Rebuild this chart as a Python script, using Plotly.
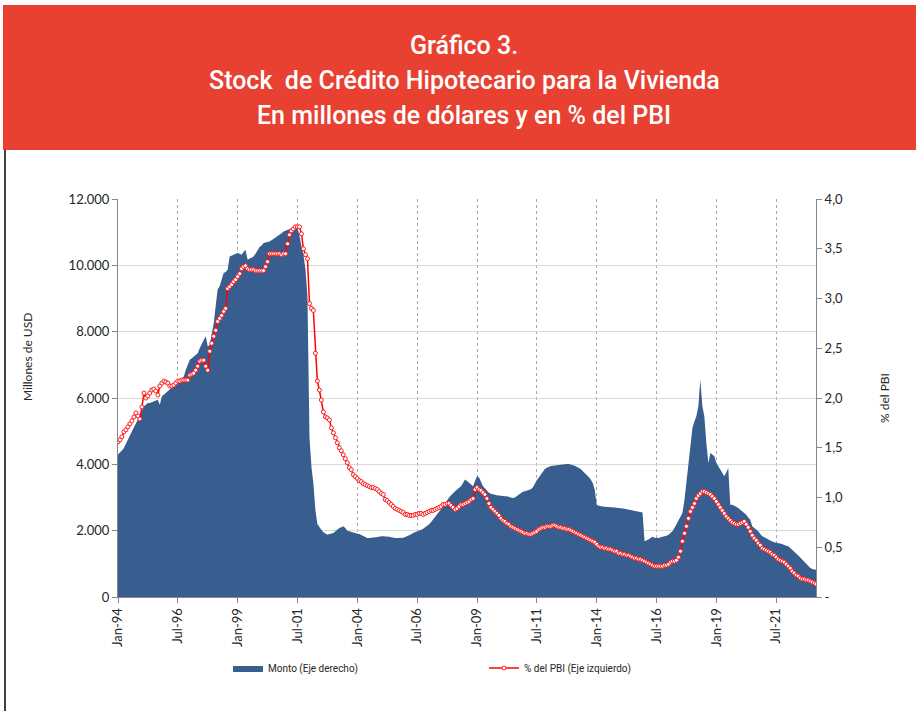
import plotly.graph_objects as go
import pandas as pd

# ---------------- DATA ----------------
start_month = "1994-01-01"

monto_usd = [
    4300, 4350, 4420, 4490, 4620, 4750, 4890, 5000, 5120, 5230, 5350, 5480,      # 1994
    5620, 5750, 5800, 5850, 5850, 5880, 5900, 5930, 5950, 5800, 6050, 6100,      # 1995
    6150, 6200, 6250, 6300, 6350, 6420, 6500, 6550, 6600, 6650, 6850, 7000,      # 1996
    7150, 7200, 7250, 7300, 7350, 7500, 7650, 7750, 7860, 7560, 7600, 7900,      # 1997
    8260, 8800, 9270, 9370, 9550, 9770, 9800, 9870, 10270, 10300, 10320, 10350,  # 1998
    10370, 10350, 10320, 10400, 10470, 10170, 10200, 10230, 10270, 10350, 10470, 10550,  # 1999
    10600, 10670, 10690, 10700, 10720, 10760, 10800, 10840, 10870, 10920, 10970, 11020,  # 2000
    11040, 11060, 11090, 11120, 11150, 11180, 11130, 10900, 10570, 10320, 9870, 9060,    # 2001
    4800, 3900, 3440, 2630, 2200, 2100, 2030, 1950, 1900, 1880, 1900, 1920,      # 2002
    1930, 1980, 2030, 2080, 2100, 2130, 2080, 2000, 1980, 1960, 1930, 1920,      # 2003
    1910, 1900, 1870, 1840, 1810, 1780, 1780, 1780, 1780, 1800, 1810, 1830,      # 2004
    1830, 1830, 1830, 1830, 1820, 1800, 1780, 1780, 1780, 1780, 1780, 1790,      # 2005
    1810, 1830, 1860, 1890, 1930, 1950, 1980, 2000, 2030, 2060, 2100, 2130,      # 2006
    2190, 2260, 2330, 2400, 2480, 2550, 2630, 2730, 2830, 2930, 3000, 3070,      # 2007
    3140, 3190, 3240, 3290, 3340, 3440, 3540, 3500, 3440, 3400, 3340, 3500,      # 2008
    3640, 3600, 3450, 3340, 3280, 3200, 3140, 3110, 3090, 3080, 3070, 3060,      # 2009
    3060, 3050, 3040, 3035, 3020, 3000, 2985, 3000, 3050, 3100, 3150, 3170,      # 2010
    3185, 3200, 3220, 3250, 3300, 3440, 3520, 3600, 3690, 3760, 3860, 3900,      # 2011
    3930, 3950, 3960, 3970, 3980, 3985, 3990, 4000, 4005, 4010, 4010, 4000,      # 2012
    3980, 3960, 3930, 3900, 3860, 3800, 3750, 3690, 3620, 3540, 3440, 3240,      # 2013
    2780, 2750, 2730, 2730, 2720, 2720, 2710, 2710, 2700, 2700, 2690, 2690,      # 2014
    2680, 2670, 2660, 2650, 2630, 2610, 2610, 2600, 2600, 2590, 2580, 2550,      # 2015
    1680, 1700, 1730, 1780, 1820, 1790, 1780, 1780, 1800, 1810, 1830, 1850,      # 2016
    1880, 1930, 1980, 2080, 2200, 2330, 2430, 2530, 2935, 3440, 4040, 4540,      # 2017
    5100, 5300, 5450, 5750, 6550, 5750, 5450, 4640, 4040, 4340, 4300, 4240,      # 2018
    4040, 3940, 3840, 3740, 3640, 3750, 3890, 2780, 2780, 2750, 2720, 2680,      # 2019
    2630, 2580, 2530, 2480, 2400, 2330, 2130, 2080, 2030, 1980, 1900, 1830,      # 2020
    1800, 1760, 1730, 1700, 1670, 1650, 1640, 1635, 1630, 1600, 1570, 1550,      # 2021
    1530, 1480, 1430, 1380, 1330, 1280, 1200, 1130, 1060, 990, 925, 880,         # 2022
    845, 830, 820,                                                                 # 2023
]

pct_pbi = [
    1.56, 1.58, 1.61, 1.66, 1.68, 1.71, 1.74, 1.77, 1.81, 1.85, 1.82, 1.79,  # 1994
    1.91, 2.05, 2.00, 2.02, 2.05, 2.08, 2.09, 2.07, 2.03, 2.12, 2.15, 2.17,  # 1995
    2.16, 2.15, 2.12, 2.12, 2.13, 2.15, 2.17, 2.17, 2.18, 2.18, 2.18, 2.18,  # 1996
    2.23, 2.24, 2.25, 2.28, 2.32, 2.37, 2.38, 2.38, 2.32, 2.28, 2.47, 2.55,  # 1997
    2.62, 2.68, 2.77, 2.80, 2.83, 2.87, 2.90, 3.10, 3.12, 3.14, 3.17, 3.19,  # 1998
    3.22, 3.25, 3.30, 3.32, 3.33, 3.30, 3.29, 3.29, 3.29, 3.28, 3.28, 3.28,  # 1999
    3.28, 3.28, 3.32, 3.37, 3.45, 3.45, 3.45, 3.45, 3.45, 3.45, 3.44, 3.45,  # 2000
    3.45, 3.55, 3.64, 3.68, 3.70, 3.72, 3.72, 3.72, 3.65, 3.50, 3.44, 3.40,  # 2001
    2.95, 2.90, 2.88, 2.45, 2.17, 2.08, 1.98, 1.86, 1.81, 1.80, 1.78, 1.70,  # 2002
    1.65, 1.60, 1.55, 1.50, 1.47, 1.43, 1.39, 1.35, 1.30, 1.28, 1.23, 1.21,  # 2003
    1.19, 1.17, 1.16, 1.14, 1.13, 1.12, 1.11, 1.10, 1.10, 1.09, 1.08, 1.06,  # 2004
    1.04, 1.03, 0.98, 0.97, 0.95, 0.93, 0.91, 0.89, 0.88, 0.87, 0.86, 0.85,  # 2005
    0.83, 0.83, 0.82, 0.82, 0.82, 0.83, 0.83, 0.84, 0.84, 0.83, 0.84, 0.85,  # 2006
    0.86, 0.87, 0.87, 0.88, 0.89, 0.90, 0.91, 0.93, 0.93, 0.94, 0.94, 0.92,  # 2007
    0.90, 0.88, 0.89, 0.91, 0.93, 0.93, 0.94, 0.95, 0.96, 0.98, 0.99, 1.08,  # 2008
    1.10, 1.08, 1.07, 1.05, 1.03, 0.99, 0.94, 0.90, 0.88, 0.86, 0.84, 0.82,  # 2009
    0.79, 0.77, 0.76, 0.74, 0.73, 0.71, 0.70, 0.69, 0.68, 0.67, 0.66, 0.65,  # 2010
    0.64, 0.64, 0.63, 0.63, 0.64, 0.65, 0.66, 0.68, 0.69, 0.70, 0.70, 0.71,  # 2011
    0.71, 0.71, 0.72, 0.72, 0.71, 0.70, 0.70, 0.69, 0.69, 0.68, 0.68, 0.67,  # 2012
    0.66, 0.65, 0.64, 0.63, 0.62, 0.61, 0.60, 0.59, 0.58, 0.57, 0.56, 0.55,  # 2013
    0.53, 0.51, 0.50, 0.50, 0.49, 0.49, 0.48, 0.48, 0.47, 0.46, 0.46, 0.44,  # 2014
    0.44, 0.43, 0.43, 0.42, 0.42, 0.41, 0.40, 0.39, 0.39, 0.38, 0.38, 0.37,  # 2015
    0.36, 0.35, 0.34, 0.33, 0.32, 0.31, 0.31, 0.31, 0.31, 0.31, 0.32, 0.32,  # 2016
    0.33, 0.35, 0.36, 0.36, 0.37, 0.40, 0.46, 0.56, 0.64, 0.71, 0.79, 0.86,  # 2017
    0.90, 0.94, 0.99, 1.02, 1.04, 1.06, 1.06, 1.05, 1.04, 1.03, 1.01, 0.99,  # 2018
    0.96, 0.93, 0.90, 0.87, 0.84, 0.81, 0.79, 0.77, 0.75, 0.74, 0.73, 0.73,  # 2019
    0.74, 0.75, 0.76, 0.73, 0.70, 0.66, 0.62, 0.59, 0.57, 0.54, 0.52, 0.49,  # 2020
    0.48, 0.47, 0.46, 0.45, 0.43, 0.42, 0.40, 0.38, 0.37, 0.36, 0.35, 0.33,  # 2021
    0.31, 0.29, 0.26, 0.24, 0.22, 0.21, 0.19, 0.18, 0.18, 0.17, 0.17, 0.16,  # 2022
    0.15, 0.14, 0.13,                                                        # 2023
]

x_tick_dates = ["1994-01-01", "1996-07-01", "1999-01-01", "2001-07-01", "2004-01-01", "2006-07-01",
                "2009-01-01", "2011-07-01", "2014-01-01", "2016-07-01", "2019-01-01", "2021-07-01"]
x_tick_labels = ["Jan-94", "Jul-96", "Jan-99", "Jul-01", "Jan-04", "Jul-06",
                 "Jan-09", "Jul-11", "Jan-14", "Jul-16", "Jan-19", "Jul-21"]
y1_ticks = [0, 2000, 4000, 6000, 8000, 10000, 12000]
y1_labels = ["0", "2.000", "4.000", "6.000", "8.000", "10.000", "12.000"]
y2_ticks = [0, 0.5, 1.0, 1.5, 2.0, 2.5, 3.0, 3.5, 4.0]
y2_labels = ["-", "0,5", "1,0", "1,5", "2,0", "2,5", "3,0", "3,5", "4,0"]

title_lines = ["Gráfico 3.", "Stock  de Crédito Hipotecario para la Vivienda",
               "En millones de dólares y en % del PBI"]
series_names = ["Monto (Eje derecho)", "% del PBI (Eje izquierdo)"]
assert len(monto_usd) == len(pct_pbi)

months = pd.date_range(start_month, periods=len(monto_usd), freq="MS")

# ---------------- LAYOUT HELPERS ----------------
W, H = 916, 711
PL, PR, PT, PB = 118, 816, 199, 597  # plot-area pixel box


def fx(px):
    return (px - PL) / (PR - PL)


def fy(py):
    return (PB - py) / (PB - PT)


TICK_FONT = dict(family="Lato, Open Sans, sans-serif", size=13, color="#262626")
NARROW = "Roboto, sans-serif"

fig = go.Figure()
fig.add_trace(go.Scatter(
    x=months, y=monto_usd, name=series_names[0], mode="lines",
    fill="tozeroy", fillcolor="#375E8F", line=dict(width=0, color="#375E8F"),
    yaxis="y",
))
fig.add_trace(go.Scatter(
    x=months, y=pct_pbi, name=series_names[1], mode="lines+markers",
    line=dict(color="#FF0000", width=1.5),
    marker=dict(symbol="circle", size=4, color="white", line=dict(color="#FF1A1A", width=1)),
    yaxis="y2",
))

shapes = [
    dict(type="rect", xref="paper", yref="paper", x0=fx(3), x1=fx(917), y0=fy(150), y1=fy(5),
         fillcolor="#E84132", line=dict(width=0), layer="below"),
    dict(type="line", xref="paper", yref="paper", x0=fx(5), x1=fx(5), y0=fy(150), y1=fy(712),
         line=dict(color="black", width=1.5)),
]

annotations = []
for txt, py in zip(title_lines, [45, 80, 116]):
    annotations.append(dict(text=txt, xref="paper", yref="paper", x=fx(464), y=fy(py),
                            xanchor="center", yanchor="middle", showarrow=False,
                            font=dict(family=NARROW, size=25, color="white", weight=500)))
annotations.append(dict(text="Millones de USD", xref="paper", yref="paper", x=fx(27), y=fy(357),
                        xanchor="center", yanchor="middle", textangle=-90, showarrow=False,
                        font=dict(family="Lato, Open Sans, sans-serif", size=12, color="#262626")))
annotations.append(dict(text="% del PBI", xref="paper", yref="paper", x=fx(884), y=fy(398),
                        xanchor="center", yanchor="middle", textangle=-90, showarrow=False,
                        font=dict(family="Lato, Open Sans, sans-serif", size=12, color="#262626")))

fig.update_layout(
    width=W, height=H,
    margin=dict(l=PL, r=W - PR, t=PT, b=H - PB, pad=0),
    paper_bgcolor="white", plot_bgcolor="white",
    showlegend=True,
    legend=dict(orientation="h", x=fx(228), y=fy(668), xanchor="left", yanchor="middle",
                entrywidth=211, entrywidthmode="pixels", traceorder="normal",
                font=dict(family="Roboto, sans-serif", size=10, color="#262626"), itemwidth=30,
                bgcolor="rgba(0,0,0,0)"),
    xaxis=dict(
        type="date", range=[months[0], months[-1]],
        tickmode="array", tickvals=x_tick_dates, ticktext=x_tick_labels,
        tickangle=-90, tickfont=TICK_FONT,
        showgrid=True, gridcolor="#A6A6A6", griddash="dot", gridwidth=1,
        showline=True, linecolor="#868686", linewidth=1,
        ticks="outside", ticklen=5, tickcolor="#868686",
        zeroline=False,
    ),
    yaxis=dict(
        range=[0, 12000], tickmode="array", tickvals=y1_ticks, ticktext=y1_labels,
        tickfont=TICK_FONT, showgrid=True, gridcolor="#D9D9D9", gridwidth=1,
        showline=True, linecolor="#868686", linewidth=1,
        ticks="outside", ticklen=5, tickcolor="#868686", zeroline=False,
    ),
    yaxis2=dict(
        range=[0, 4], overlaying="y", side="right", anchor="x",
        tickmode="array", tickvals=y2_ticks, ticktext=y2_labels,
        tickfont=TICK_FONT, showgrid=False,
        showline=True, linecolor="#868686", linewidth=1,
        ticks="outside", ticklen=5, tickcolor="#868686", zeroline=False,
    ),
    shapes=shapes,
    annotations=annotations,
)

fig.write_html("out.html", config={"displayModeBar": False},
               post_script="document.body.style.margin='0';document.body.style.overflow='hidden';")
